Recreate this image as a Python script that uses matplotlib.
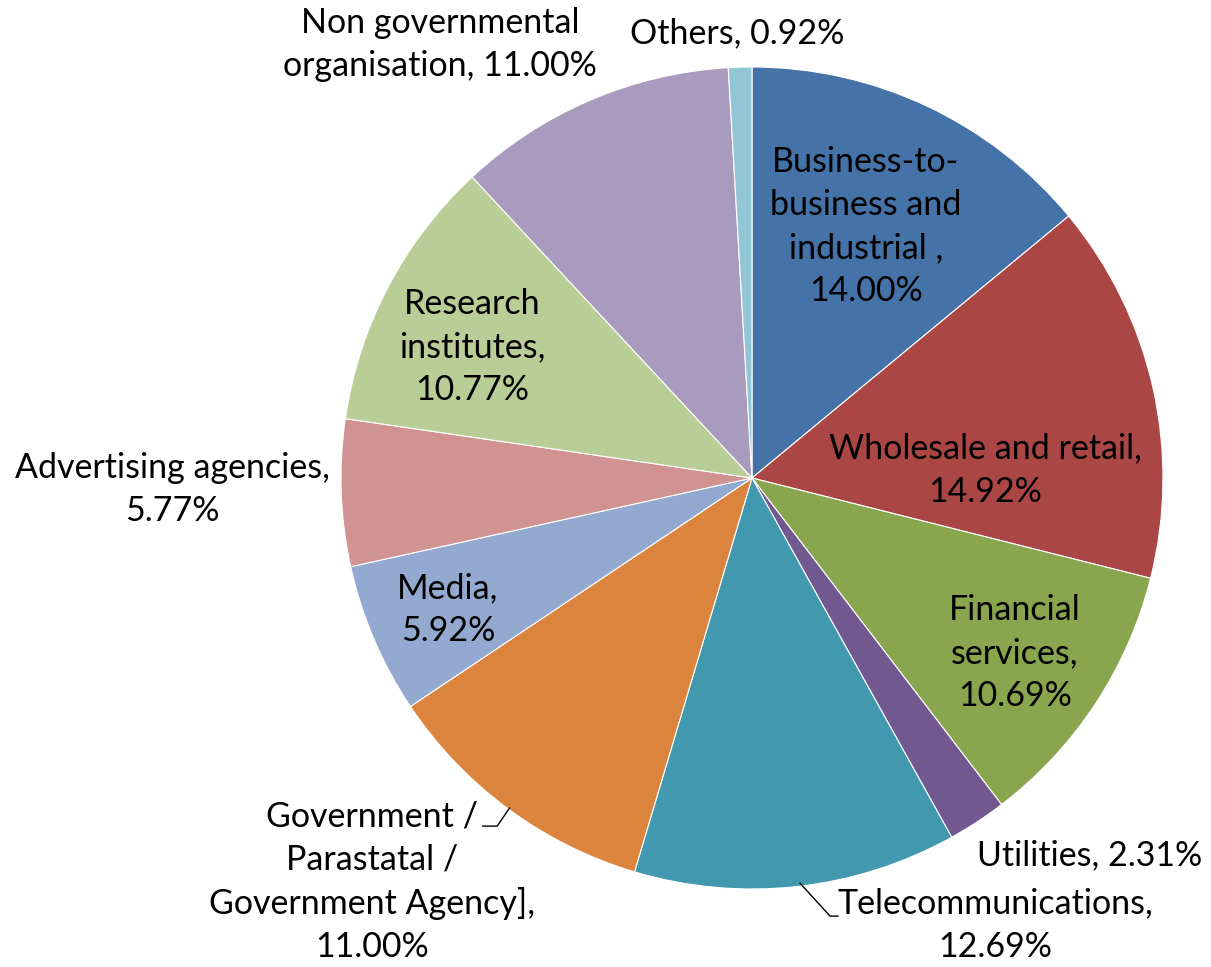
import matplotlib.pyplot as plt

sectors = ['Business-to-\nbusiness and\nindustrial ,', 'Wholesale and retail,', 'Financial\nservices,',
           'Utilities,', 'Telecommunications,', 'Government /\nParastatal /\nGovernment Agency],',
           'Media,', 'Advertising agencies,', 'Research\ninstitutes,', 'Non governmental\norganisation,',
           'Others,']
shares = [14.00, 14.92, 10.69, 2.31, 12.69, 11.00, 5.92, 5.77, 10.77, 11.00, 0.92]
colors = ['#4572A7', '#AA4643', '#89A54E', '#71588F', '#4198AF', '#DB843D',
          '#93A9CF', '#D19392', '#B9CD96', '#A99BBD', '#92C5D5']

# label centres (pie radius = 1) and whether the percentage goes on its own line
label_pos = [(0.277, 0.611, True), (0.567, 0.019, True), (0.640, -0.426, True),
             (0.822, -0.917, False), (0.591, -1.088, True), (-0.925, -0.983, True),
             (-0.740, -0.321, True), (-1.411, -0.029, True), (-0.681, 0.319, True),
             (-0.759, 1.054, False), (-0.036, 1.083, False)]

fig = plt.figure(figsize=(12.11, 9.67), dpi=100)
ax = fig.add_axes([0, 0, 1, 1])
ax.pie(shares, colors=colors, startangle=90, counterclock=False, radius=1,
       wedgeprops=dict(edgecolor='white', linewidth=0.8))
ax.set_xlim(-752 / 411, (1211 - 752) / 411)
ax.set_ylim(-(967 - 478) / 411, 478 / 411)
ax.set_aspect('equal')
ax.axis('off')

for name, val, (x, y, newline) in zip(sectors, shares, label_pos):
    sep = '\n' if newline else ' '
    if name.startswith('Non'):
        sep = ' '
    ax.text(x, y, f'{name}{sep}{val:.2f}%', ha='center', va='center',
            fontsize=24.5, family='Lato', linespacing=1.42)

# leader lines
ax.plot([-0.590, -0.620, -0.655], [-0.803, -0.847, -0.847], color='black', lw=1)
ax.plot([0.117, 0.190, 0.209], [-0.986, -1.066, -1.066], color='black', lw=1)

fig.savefig('out.png', dpi=100)
